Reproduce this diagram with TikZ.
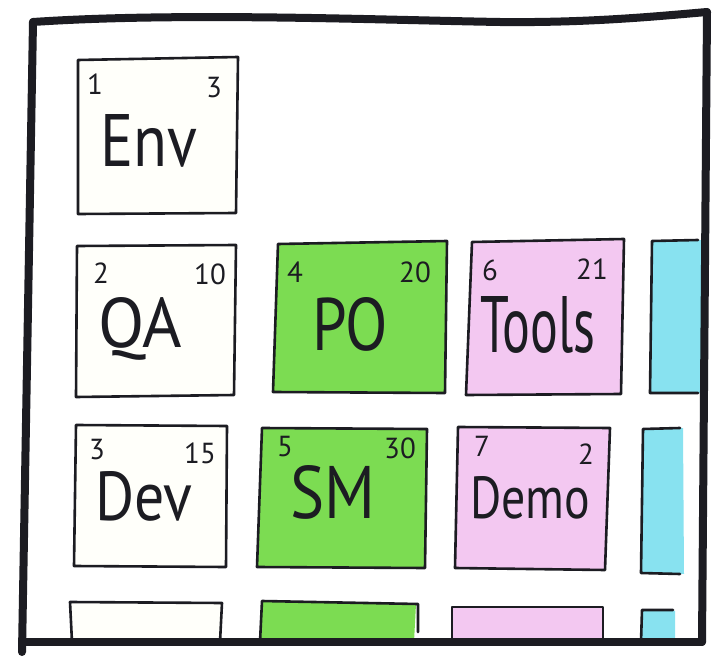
\documentclass[tikz,border=0pt]{standalone}
\usepackage{fontspec}
\setmainfont{PT Sans}
\usepackage{graphicx}
\definecolor{ink}{RGB}{28,28,34}
\definecolor{cgreen}{RGB}{124,220,82}
\definecolor{cpink}{RGB}{243,200,241}
\definecolor{ccyan}{RGB}{136,226,240}
\definecolor{ccream}{RGB}{255,255,250}
\tikzset{
  card/.style={draw=ink, line width=2.6pt, line join=round, line cap=round},
  frameline/.style={draw=ink, line width=8pt, line join=round, line cap=round},
  lbl/.style={inner sep=0pt, anchor=base west, text=ink},
  num/.style={inner sep=0pt, anchor=center, text=ink, font=\fontsize{29}{29}\selectfont}
}
\newcommand{\lab}[3]{\resizebox{#1pt}{#2pt}{\fontsize{60}{60}\selectfont #3}}
\begin{document}
\begin{tikzpicture}[x=1pt,y=-1pt]
\useasboundingbox[fill=white] (0,0) rectangle (718,658);
% ---- fills ----
\fill[ccream] (78,60) -- (238,57) -- (236,213) -- (78,214) -- cycle;
\fill[ccream] (77,246) -- (236,245) -- (234,395) -- (76,397) -- cycle;
\fill[ccream] (76,425) -- (227,426) -- (226,567) -- (74,566) -- cycle;
\fill[cgreen] (278,244) -- (447,241) -- (445,393) -- (273,392) -- cycle;
\fill[cgreen] (262,428) -- (427,429) -- (425,568) -- (257,567) -- cycle;
\fill[cpink] (472,242) -- (624,239) -- (621,394) -- (466,395) -- cycle;
\fill[cpink] (458,427) -- (610,428) -- (605,570) -- (455,568) -- cycle;
\fill[ccyan] (652,241) -- (702,240) -- (702,393) -- (650,393) -- cycle;
\fill[ccyan] (643,429) -- (683,428) -- (684,574) -- (641,573) -- cycle;
\fill[ccyan] (642,610) -- (675,611) -- (675,642) -- (641,642) -- cycle;
\fill[ccream] (70,602) -- (222,603) -- (220,642) -- (72,642) -- cycle;
\fill[cgreen] (262,601) -- (416,604) -- (414,642) -- (260,642) -- cycle;
\fill[cpink] (452,607) -- (603,607) -- (603,642) -- (452,642) -- cycle;
% ---- card outlines ----
\draw[card] (78,60) -- (238,57) -- (236,213) -- (78,214) -- cycle;
\draw[card] (77,246) -- (236,245) -- (234,395) -- (76,397) -- cycle;
\draw[card] (76,425) -- (227,426) -- (226,567) -- (74,566) -- cycle;
\draw[card] (278,244) -- (447,241) -- (445,393) -- (273,392) -- cycle;
\draw[card] (262,428) -- (427,429) -- (425,568) -- (257,567) -- cycle;
\draw[card] (472,242) -- (624,239) -- (621,394) -- (466,395) -- cycle;
\draw[card] (458,427) -- (610,428) -- (605,570) -- (455,568) -- cycle;
\draw[card] (698,240) -- (652,241) -- (650,393) -- (698,393);
\draw[card] (680,428) -- (643,429) -- (641,573) -- (680,574);
\draw[card] (673,610) -- (642,610) -- (641,642);
\draw[card] (72,642) -- (70,602) -- (222,603) -- (220,642);
\draw[card] (260,642) -- (262,601) -- (418,604) -- (418,632);
\draw[card] (452,642) -- (452,607) -- (603,607) -- (603,640);
% ---- labels ----
\node[lbl] (env) at (100,167) {\lab{97}{52}{Env}};
\node[lbl] (qa) at (98,347) {\lab{84}{50}{QA}};
\node[lbl] (po) at (312,350) {\lab{76}{53}{PO}};
\node[lbl] (tools) at (480,352) {\lab{115}{56}{Tools}};
\node[lbl] (dev) at (95,520) {\lab{97}{49}{Dev}};
\node[lbl] (sm) at (290,518) {\lab{85}{53}{SM}};
\node[lbl] (demo) at (470,518) {\lab{120}{42}{Demo}};
% ---- numbers ----
\node[num] (n1a) at (95,84) {1};
\node[num] (n1b) at (214,88) {3};
\node[num] (n2a) at (101,273) {2};
\node[num] (n2b) at (210,274) {10};
\node[num] (n3a) at (97,450) {3};
\node[num] (n3b) at (200,453) {15};
\node[num] (n4a) at (295,272) {4};
\node[num] (n4b) at (415,272) {20};
\node[num] (n5a) at (285,447) {5};
\node[num] (n5b) at (400,448) {30};
\node[num] (n6a) at (490,270) {6};
\node[num] (n6b) at (592,269) {21};
\node[num] (n7a) at (482,446) {7};
\node[num] (n7b) at (586,454) {2};
% ---- outer frame ----
\draw[frameline] (33,22) .. controls (180,12) and (380,20) .. (500,22) .. controls (590,23) and (660,16) .. (707,12);
\draw[frameline] (707,12) -- (702,642);
\draw[frameline] (33,22) -- (22,652);
\draw[frameline] (22,642) -- (702,642);
\end{tikzpicture}
\end{document}
